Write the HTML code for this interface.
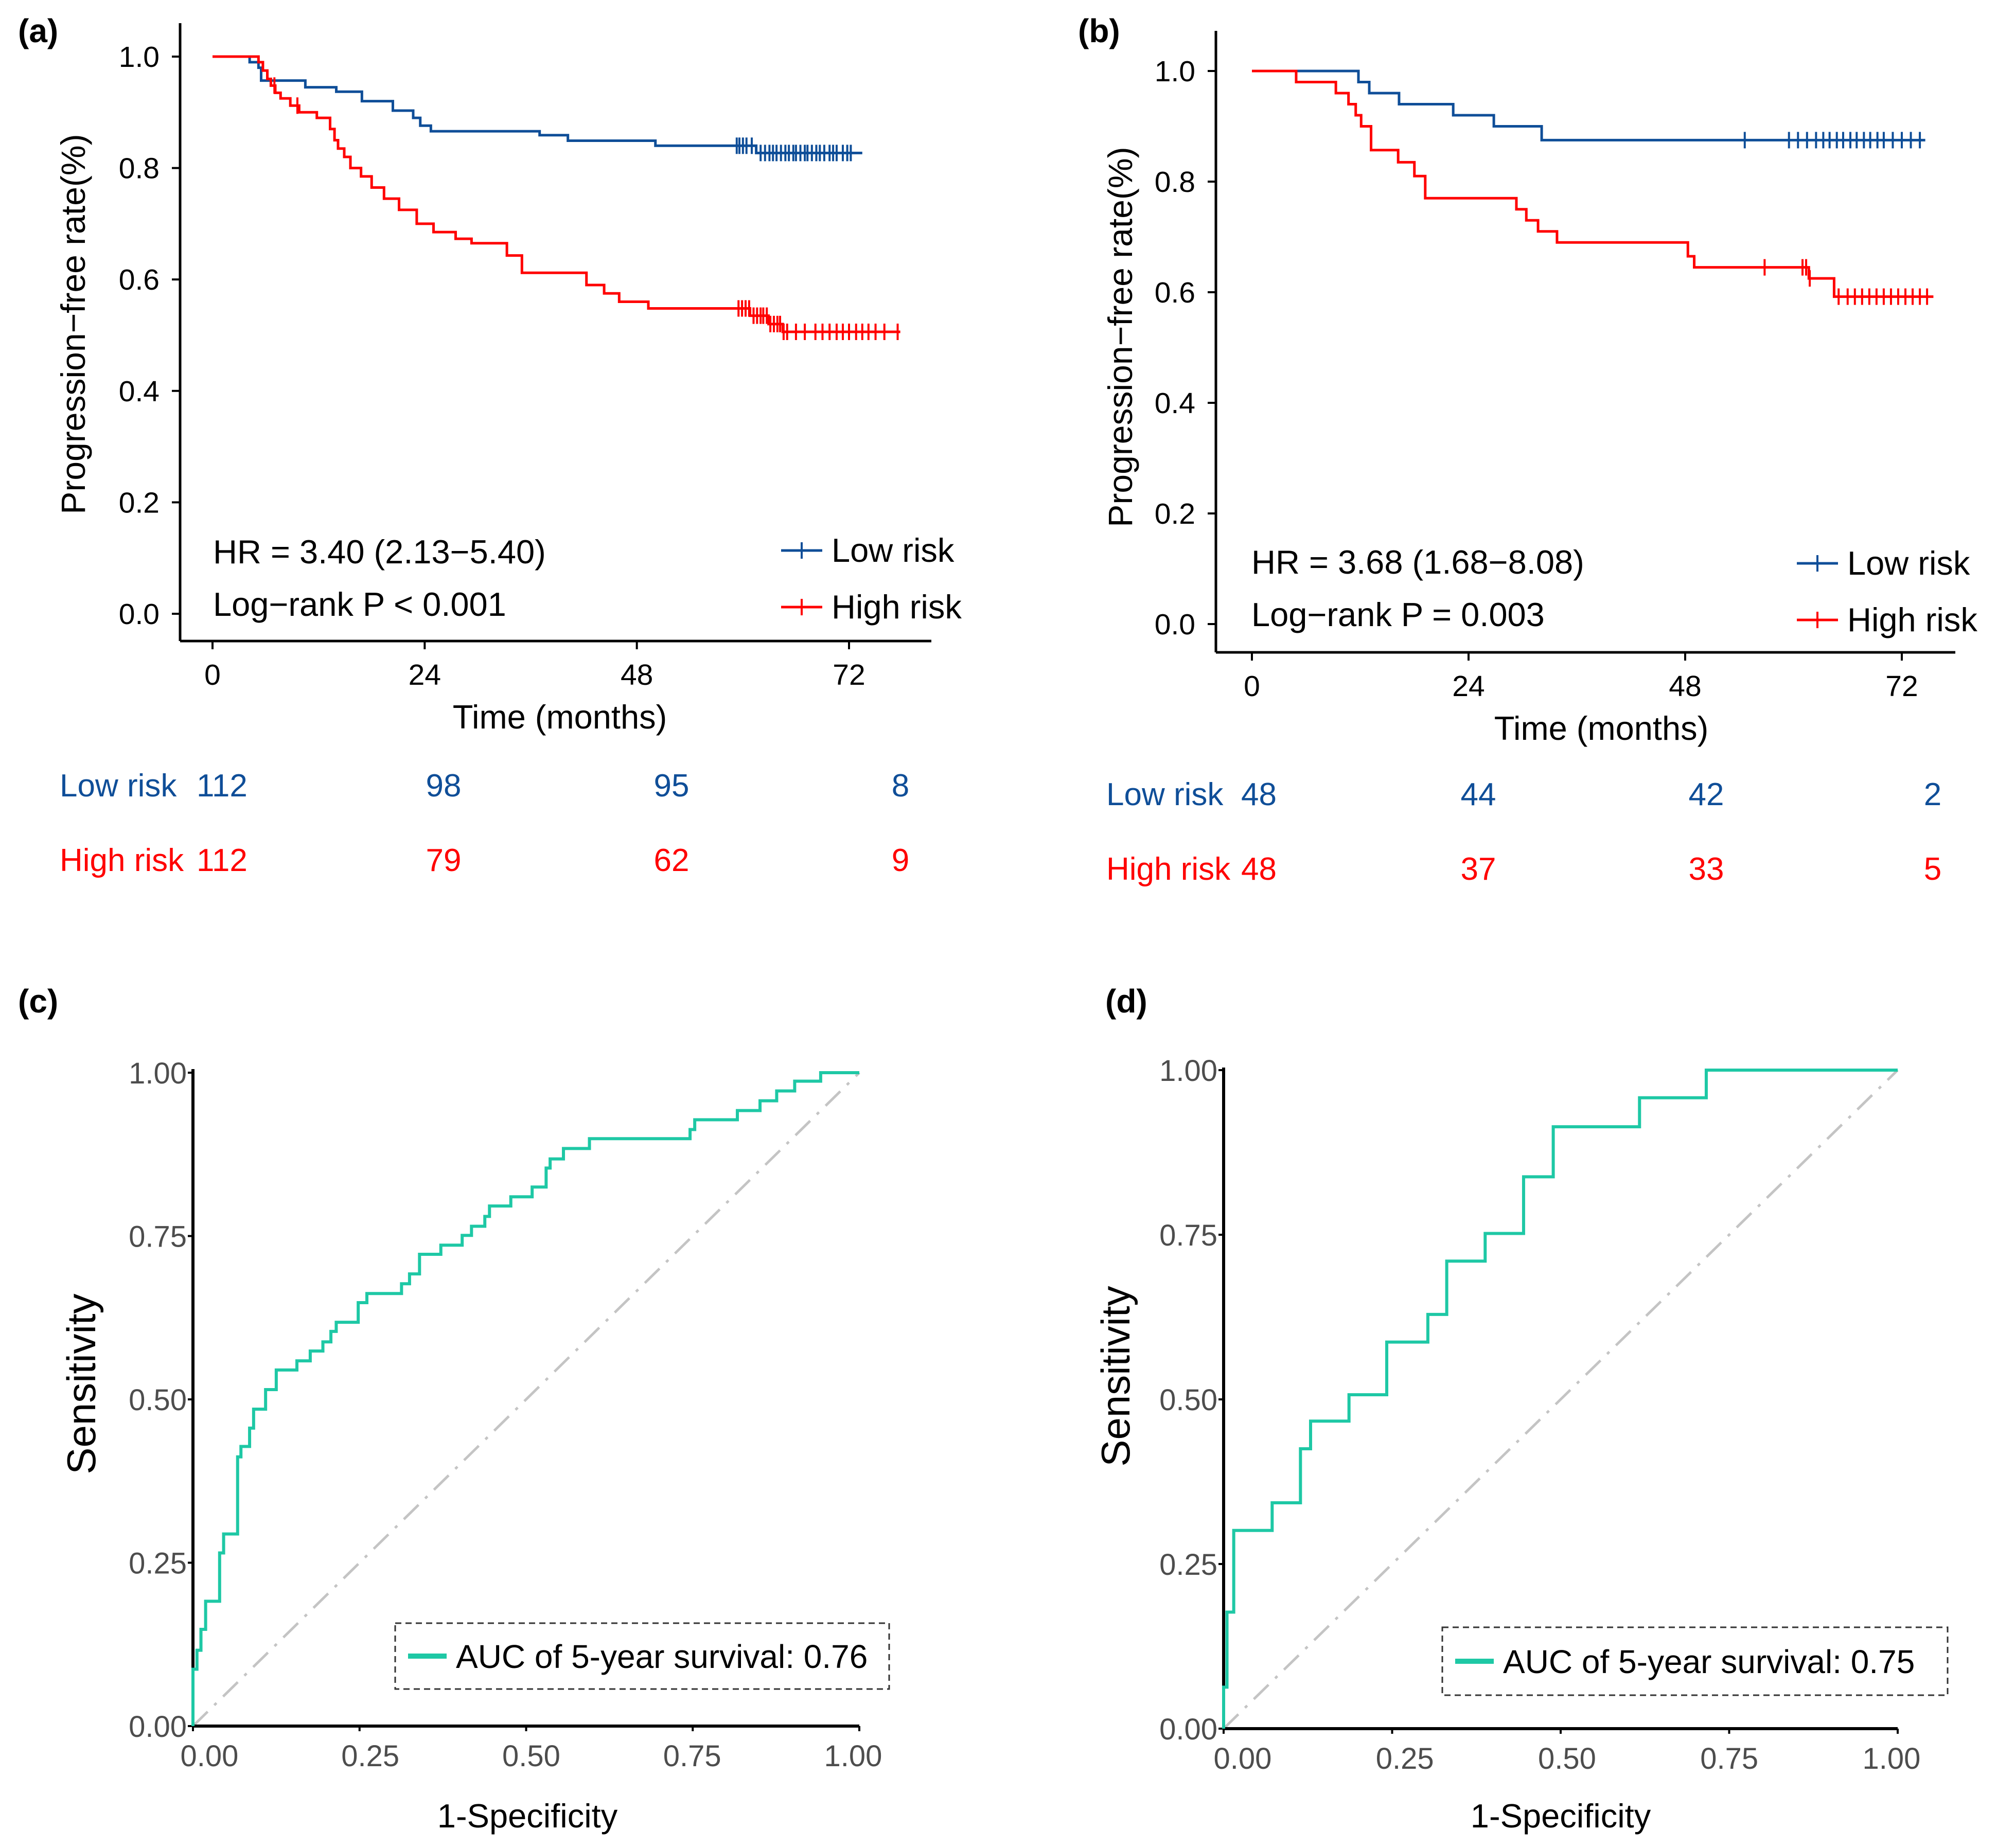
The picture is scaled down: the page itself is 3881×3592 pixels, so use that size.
<!DOCTYPE html>
<html><head><meta charset="utf-8"><style>
html,body{margin:0;padding:0;background:#fff;}
svg{display:block;font-family:"Liberation Sans",Arial,sans-serif;}
</style></head><body>
<svg id="fig" width="3881" height="3592" viewBox="0 0 3881 3592" xmlns="http://www.w3.org/2000/svg">
<rect width="3881" height="3592" fill="#fff"/>
</svg>
<script>
// ---- Panel (a) data ----
const aLowT = [0,4.2,5.2,5.5,10.5,14,16.9,20.4,22.7,23.5,24.7,37,40.2,50.1,61.5];
const aLowS = [1,.99,.98,.957,.945,.937,.92,.903,.89,.876,.866,.859,.849,.84,.827];
const aLowEnd = 73.5;
const aLowCens = [59.3,59.6,60,60.4,61,62,62.5,63,63.4,63.8,64.3,64.8,65.2,65.7,66,66.5,67,67.3,67.8,68.3,68.7,69.2,69.8,70.2,70.6,71.3,71.8,72.2];
const aHighT = [0,5.2,5.7,6.2,6.6,7.1,7.7,8.8,9.8,11.8,13.3,13.8,14.2,14.9,15.6,16.8,18,19.4,21.1,23.1,25,27.5,29.3,33.3,35,42.3,44.3,46,49.3,60.8,62.9,64.5];
const aHighS = [1,.99,.975,.96,.948,.935,.925,.912,.9,.89,.87,.85,.835,.82,.8,.785,.765,.745,.725,.7,.685,.673,.665,.643,.612,.59,.575,.56,.548,.535,.52,.506];
const aHighEnd = 77.8;
const aHighCens = [7,9.6,59.5,59.9,60.3,60.7,61.2,61.6,62,62.3,62.7,63.1,63.5,63.9,64.2,64.6,65,66,67,68.2,69,69.8,70.6,71.3,72,72.8,73.5,74.2,75,76,77.5];
const aRiskLow = ["112","98","95","8"];
const aRiskHigh = ["112","79","62","9"];
// ---- Panel (b) data ----
const bLowT = [0,11.8,13,16.3,22.3,26.8,32.1];
const bLowS = [1,.98,.96,.94,.92,.9,.875];
const bLowEnd = 74.6;
const bLowCens = [54.6,59.5,60.5,61.5,62.5,63.3,64,64.8,65.5,66.3,67,67.8,68.5,69.3,70,71,72,73,74];
const bHighT = [0,4.9,9.3,10.7,11.5,12.1,13.2,16.2,18,19.2,29.3,30.4,31.7,33.8,48.3,49,61.7,64.5];
const bHighS = [1,.98,.96,.94,.92,.9,.857,.835,.81,.77,.75,.73,.71,.69,.665,.645,.625,.592];
const bHighEnd = 75.5;
const bHighCens = [56.8,61,61.4,61.8,65,66,66.8,67.6,68.4,69.2,70,70.8,71.6,72.4,73.2,74,74.8];
const bRiskLow = ["48","44","42","2"];
const bRiskHigh = ["48","37","33","5"];
const kmTicksX = [0,24,48,72];
const kmTicksY = [0,0.2,0.4,0.6,0.8,1.0];
// ---- ROC data ----
const cFpr = [0,.006,.012,.019,.040,.046,.067,.072,.085,.091,.109,.125,.156,.176,.195,.207,.215,.248,.261,.313,.325,.340,.372,.404,.418,.438,.445,.477,.509,.530,.536,.556,.595,.746,.753,.817,.851,.876,.903,.942,1];
const cTpr = [.087,.116,.148,.191,.265,.294,.412,.428,.456,.485,.515,.545,.559,.574,.588,.604,.618,.648,.662,.677,.692,.722,.736,.751,.765,.780,.796,.810,.825,.854,.868,.884,.899,.913,.928,.942,.957,.972,.987,1,1];
const dFpr = [0,0.005,.015,.072,.114,.129,.186,.242,.303,.331,.388,.445,.489,.617,.716,1];
const dTpr = [.063,.177,.301,.343,.425,.467,.507,.587,.629,.710,.752,.838,.914,.958,1,1];
const rocTicks = ["0.00","0.25","0.50","0.75","1.00"];
const rocTickVals = [0,0.25,0.5,0.75,1];

const NS = "http://www.w3.org/2000/svg";
const svg = document.getElementById('fig');
function el(tag, attrs, parent){
  const e = document.createElementNS(NS, tag);
  for (const k in attrs) e.setAttribute(k, attrs[k]);
  (parent||svg).appendChild(e);
  return e;
}
function txt(s, attrs, parent){ const t = el('text', attrs, parent); t.textContent = s; return t; }

function stepVal(T,S,t){ let v=S[0]; for(let i=0;i<T.length;i++){ if(T[i]<=t) v=S[i]; } return v; }

function kmPanel(o){
  const g = el('g', {});
  
  
  const X = t => o.x0 + (o.x72 - o.x0) * t / 72;
  const Y = s => o.y0 + (o.y1 - o.y0) * s;
  const ya = el('line', {x1:o.axX, y1:o.axTop, x2:o.axX, y2:o.axY, stroke:'#000','stroke-width':5}, g);
   
  const xa = el('line', {x1:o.axX, y1:o.axY, x2:o.axRight, y2:o.axY, stroke:'#000','stroke-width':5}, g);
   
  kmTicksY.forEach(v => {
    el('line',{x1:o.axX-16,y1:Y(v),x2:o.axX,y2:Y(v),stroke:'#000','stroke-width':4},g);
    const t = txt(v.toFixed(1), {x:o.axX-40, y:Y(v)+20, 'font-size':57, 'text-anchor':'end', fill:'#000'}, g);
     
  });
  kmTicksX.forEach(v => {
    el('line',{x1:X(v),y1:o.axY,x2:X(v),y2:o.axY+16,stroke:'#000','stroke-width':4},g);
    const t = txt(String(v), {x:X(v), y:o.axY+85, 'font-size':57, 'text-anchor':'middle', fill:'#000'}, g);
     
  });
  const xt = txt('Time (months)', {x:o.xTitleX, y:o.axY+170, 'font-size':65, 'text-anchor':'middle'}, g);
   
  const yt = txt('Progression\u2212free rate(%)', {x:0, y:0, 'font-size':66, 'text-anchor':'middle', transform:`translate(${o.yTitleX},${o.yTitleY}) rotate(-90)`}, g);
   
  const lab = txt(o.label, {x:o.labX, y:o.labY, 'font-size':64, 'font-weight':'bold'}, g);
   
  function curve(T,S,end,cens,color,name){
    let d = `M${X(T[0])},${Y(S[0])}`;
    for(let i=1;i<T.length;i++){ d += ` H${X(T[i])} V${Y(S[i])}`; }
    d += ` H${X(end)}`;
    const p = el('path',{d:d,fill:'none',stroke:color,'stroke-width':5},g);
     
    cens.forEach(c => {
      const yy = Y(stepVal(T,S,c));
      const m = el('path',{d:`M${X(c)},${yy-16} V${yy+16}`,stroke:color,'stroke-width':4},g);
       
    });
  }
  curve(o.lowT,o.lowS,o.lowEnd,o.lowCens,'#0f4e98','low-risk-curve');
  curve(o.highT,o.highS,o.highEnd,o.highCens,'#ff0000','high-risk-curve');
  const hr = txt(o.hr, {x:o.hrX, y:o.hrY, 'font-size':65}, g);
   
  const lr = txt(o.lr, {x:o.hrX, y:o.hrY+102, 'font-size':65}, g);
   
  [['Low risk','#0f4e98',o.legY1],['High risk','#ff0000',o.legY2]].forEach(([n,c,y])=>{
    const lg = el('g',{},g);
     
    el('line',{x1:o.legX,y1:y,x2:o.legX+80,y2:y,stroke:c,'stroke-width':5},lg);
    el('line',{x1:o.legX+40,y1:y-16,x2:o.legX+40,y2:y+16,stroke:c,'stroke-width':4},lg);
    txt(n,{x:o.legX+98,y:y+22,'font-size':65},lg);
  });
  [['Low risk','#0f4e98',o.riskLow,o.riskY1],['High risk','#ff0000',o.riskHigh,o.riskY2]].forEach(([n,c,vals,y])=>{
    const rg = el('g',{},g);
     
    txt(n,{x:o.riskLabX,y:y,'font-size':62,fill:c},rg);
    vals.forEach((v,i)=>{
      const xx = i===0 ? o.riskFirstX : o.riskCols[i];
      txt(v,{x:xx,y:y,'font-size':62,fill:c,'text-anchor': i===0?'start':'middle'},rg);
    });
  });
}

kmPanel({name:'km-panel-a', label:'(a)', labX:35, labY:82,
  x0:413, x72:1650, y0:1193, y1:110, axX:350, axTop:45, axY:1246, axRight:1810,
  xTitleX:1088, yTitleX:165, yTitleY:630,
  lowT:aLowT, lowS:aLowS, lowEnd:aLowEnd, lowCens:aLowCens,
  highT:aHighT, highS:aHighS, highEnd:aHighEnd, highCens:aHighCens,
  hr:'HR = 3.40 (2.13\u22125.40)', lr:'Log\u2212rank P < 0.001', hrX:414, hrY:1095,
  legX:1518, legY1:1070, legY2:1180,
  riskLow:aRiskLow, riskHigh:aRiskHigh, riskLabX:116, riskFirstX:382, riskCols:[0,862,1305,1750], riskY1:1548, riskY2:1693});

kmPanel({name:'km-panel-b', label:'(b)', labX:2095, labY:82,
  x0:2433, x72:3696, y0:1213, y1:138, axX:2363, axTop:60, axY:1268, axRight:3800,
  xTitleX:3112, yTitleX:2200, yTitleY:655,
  lowT:bLowT, lowS:bLowS, lowEnd:bLowEnd, lowCens:bLowCens,
  highT:bHighT, highS:bHighS, highEnd:bHighEnd, highCens:bHighCens,
  hr:'HR = 3.68 (1.68\u22128.08)', lr:'Log\u2212rank P = 0.003', hrX:2432, hrY:1115,
  legX:3492, legY1:1095, legY2:1205,
  riskLow:bRiskLow, riskHigh:bRiskHigh, riskLabX:2150, riskFirstX:2412, riskCols:[0,2873,3316,3756], riskY1:1565, riskY2:1710});

function rocPanel(o){
  const g = el('g',{});
   
  const X = f => o.x0 + (o.x1-o.x0)*f;
  const Y = s => o.y0 + (o.y1-o.y0)*s;
  const lab = txt(o.label,{x:o.labX,y:o.labY,'font-size':64,'font-weight':'bold'},g);
   
  const dg = el('line',{x1:X(0),y1:Y(0),x2:X(1),y2:Y(1),stroke:'#c4c4c4','stroke-width':5,'stroke-dasharray':'40 18 6 18'},g);
   
  const ya = el('line',{x1:o.x0,y1:o.axTop,x2:o.x0,y2:o.y0,stroke:'#000','stroke-width':6},g);
   
  const xa = el('line',{x1:o.x0,y1:o.y0,x2:X(1),y2:o.y0,stroke:'#000','stroke-width':6},g);
   
  rocTickVals.forEach((v,i)=>{
    el('line',{x1:X(v),y1:o.y0,x2:X(v),y2:o.y0+10,stroke:'#000','stroke-width':4},g);
    const sh = o.s0 + (o.s1 - o.s0)*v;
    const t = txt(rocTicks[i],{x:X(v)+sh,y:o.y0+78,'font-size':58,'text-anchor':'middle',fill:'#4d4d4d'},g);
     
    el('line',{x1:o.x0-10,y1:Y(v),x2:o.x0,y2:Y(v),stroke:'#000','stroke-width':4},g);
    const u = txt(rocTicks[i],{x:o.x0-12,y:Y(v)+21,'font-size':58,'text-anchor':'end',fill:'#4d4d4d'},g);
     
  });
  const xt = txt('1-Specificity',{x:o.xTitleX,y:o.xTitleY,'font-size':65,'text-anchor':'middle'},g);
   
  const yt = txt('Sensitivity',{x:0,y:0,'font-size':78,'text-anchor':'middle',transform:`translate(${o.yTitleX},${o.yTitleY}) rotate(-90)`},g);
   
  let d = `M${X(0)},${Y(0)}`;
  for(let i=0;i<o.fpr.length;i++){ d += ` H${X(o.fpr[i])} V${Y(o.tpr[i])}`; }
  const p = el('path',{d:d,fill:'none',stroke:'#1ec8a5','stroke-width':6},g);
   
  const lg = el('g',{},g);
   
  el('rect',{x:o.lx,y:o.ly,width:o.lw,height:o.lh,fill:'none',stroke:'#333','stroke-width':3,'stroke-dasharray':'12 8'},lg);
  el('line',{x1:o.lx+25,y1:o.ly+o.lh/2,x2:o.lx+100,y2:o.ly+o.lh/2,stroke:'#1ec8a5','stroke-width':10},lg);
  txt(o.auc,{x:o.lx+118,y:o.ly+o.lh/2+23,'font-size':64},lg);
}

rocPanel({name:'roc-panel-c',label:'(c)',labX:35,labY:1968,x0:375,x1:1670,y0:3355,y1:2085,axTop:2078,
  fpr:cFpr,tpr:cTpr,s0:32,s1:-12,xTitleX:1025,xTitleY:3552,yTitleX:185,yTitleY:2690,
  lx:768,ly:3155,lw:960,lh:128,auc:'AUC of 5-year survival: 0.76'});
rocPanel({name:'roc-panel-d',label:'(d)',labX:2148,labY:1968,x0:2378,x1:3688,y0:3360,y1:2080,axTop:2075,
  fpr:dFpr,tpr:dTpr,s0:37,s1:-12,xTitleX:3033,xTitleY:3552,yTitleX:2195,yTitleY:2675,
  lx:2803,ly:3163,lw:982,lh:132,auc:'AUC of 5-year survival: 0.75'});
</script>
</body></html>
